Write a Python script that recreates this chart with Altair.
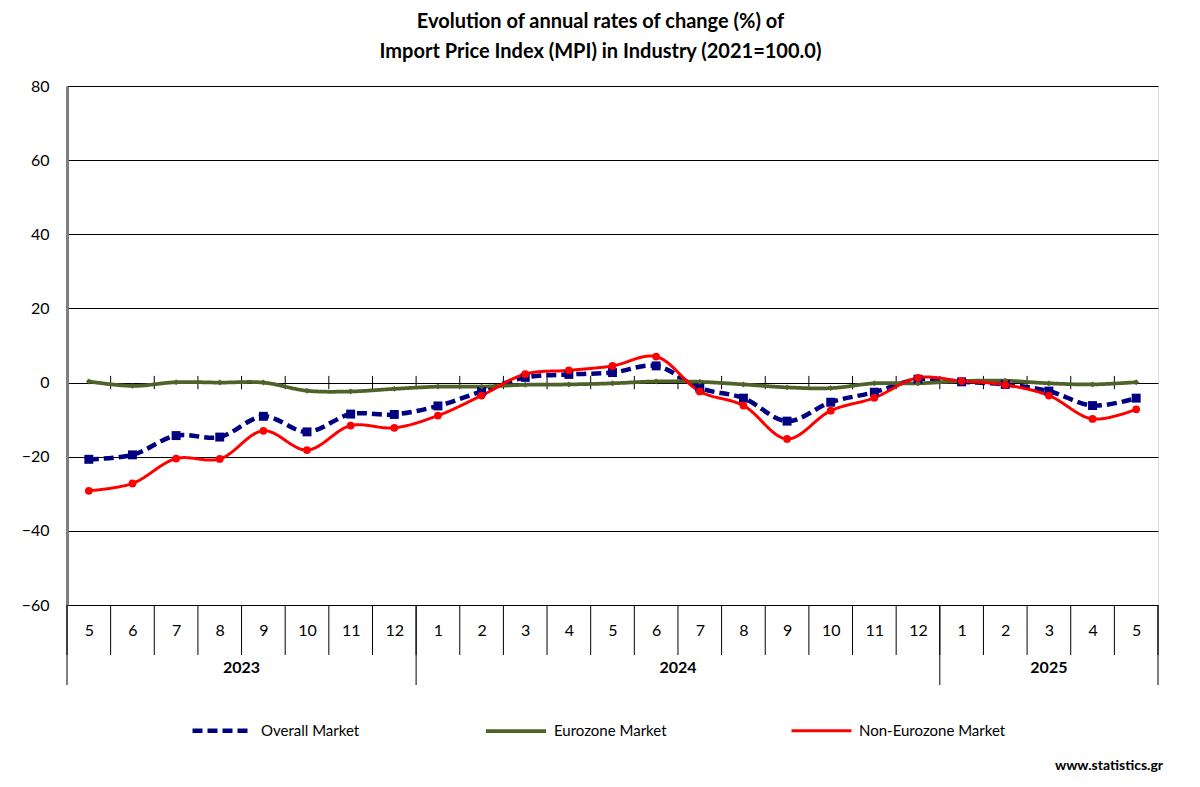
import altair as alt
import pandas as pd

# ---- data ----
months = [5, 6, 7, 8, 9, 10, 11, 12, 1, 2, 3, 4, 5, 6, 7, 8, 9, 10, 11, 12, 1, 2, 3, 4, 5]
year_labels = ["2023", "2024", "2025"]
year_counts = [8, 12, 5]

series_names = ["Overall Market", "Eurozone Market", "Non-Eurozone Market"]
overall = [-20.7, -19.5, -14.3, -14.7, -9.1, -13.3, -8.5, -8.6, -6.3, -2.4, 1.4, 2.2, 2.7, 4.5,
           -1.5, -4.2, -10.4, -5.3, -2.6, 0.9, 0.2, -0.5, -2.3, -6.2, -4.2]
eurozone = [0.3, -0.9, 0.1, 0.0, 0.0, -2.2, -2.4, -1.7, -1.1, -1.1, -0.6, -0.5, -0.2, 0.3,
            0.2, -0.5, -1.3, -1.5, -0.2, -0.2, 0.4, 0.5, -0.2, -0.5, 0.1]
non_eurozone = [-29.2, -27.2, -20.5, -20.6, -13.0, -18.2, -11.6, -12.2, -8.9, -3.5, 2.3, 3.3, 4.5, 7.0,
                -2.4, -6.2, -15.2, -7.6, -4.1, 1.3, 0.4, -0.6, -3.5, -9.8, -7.2]

colors = ["#000080", "#4F6228", "#FF0000"]

# ---- tables ----
n = len(months)
rows = []
for name, vals in zip(series_names, [overall, eurozone, non_eurozone]):
    for i, v in enumerate(vals):
        rows.append({"idx": i, "month": months[i], "series": name, "value": v})
df = pd.DataFrame(rows)

month_bounds = pd.DataFrame({"b": [i - 0.5 for i in range(n + 1)]})
inner_bounds = pd.DataFrame({"b": [i + 0.5 for i in range(n - 1)]})

starts = [0]
for c in year_counts[:-1]:
    starts.append(starts[-1] + c)
year_df = pd.DataFrame({
    "year": year_labels,
    "center": [s + (c - 1) / 2 for s, c in zip(starts, year_counts)],
})
year_bounds = pd.DataFrame({"b": [s - 0.5 for s in starts] + [n - 0.5]})

W, H = 1091, 519
FONT = "Lato"

xscale = alt.Scale(domain=[-0.5, n - 0.5], nice=False, zero=False)
yscale = alt.Scale(domain=[-60, 80], nice=False, zero=False)

label_expr = "[" + ",".join("'%d'" % m for m in months) + "][datum.value]"

x_axis = alt.Axis(values=list(range(n)), labelExpr=label_expr, ticks=False, domain=False,
                  grid=False, title=None, labelFontSize=16, labelPadding=17, labelFont=FONT,
                  labelColor="#000", labelFlush=False, labelOverlap=False)
y_axis = alt.Axis(values=list(range(-60, 81, 20)), title=None, ticks=False, grid=True,
                  gridColor="#000", gridWidth=1, gridOpacity=1, domain=True, domainColor="#7f7f7f",
                  domainWidth=3, labelFontSize=16, labelPadding=18, labelFont=FONT, labelColor="#000")

base = alt.Chart(df)

lines = base.mark_line(interpolate="catmull-rom").encode(
    x=alt.X("idx:Q", scale=xscale, axis=x_axis),
    y=alt.Y("value:Q", scale=yscale, axis=y_axis),
    color=alt.Color("series:N", scale=alt.Scale(domain=series_names, range=colors),
                    legend=alt.Legend(title=None, orient="none", legendX=123, legendY=612,
                                      direction="horizontal", symbolType="stroke", symbolSize=3600,
                                      symbolStrokeWidth=4, labelFontSize=15, labelFont=FONT,
                                      labelColor="#000", columnPadding=118, labelOffset=6)),
    strokeDash=alt.StrokeDash("series:N", scale=alt.Scale(domain=series_names,
                                                          range=[[10, 5], [1, 0], [1, 0]])),
    strokeWidth=alt.StrokeWidth("series:N", scale=alt.Scale(domain=series_names, range=[4.5, 3, 2]),
                                legend=None),
    order=alt.Order("idx:Q"),
)

pt_overall = base.transform_filter(alt.datum.series == series_names[0]).mark_point(
    shape="square", filled=True, size=80, opacity=1).encode(
    x=alt.X("idx:Q", scale=xscale), y=alt.Y("value:Q", scale=yscale), color=alt.value(colors[0]))
pt_euro = base.transform_filter(alt.datum.series == series_names[1]).mark_point(
    shape="diamond", filled=True, size=35, opacity=1).encode(
    x=alt.X("idx:Q", scale=xscale), y=alt.Y("value:Q", scale=yscale), color=alt.value(colors[1]))
pt_non = base.transform_filter(alt.datum.series == series_names[2]).mark_point(
    shape="circle", filled=True, size=60, opacity=1).encode(
    x=alt.X("idx:Q", scale=xscale), y=alt.Y("value:Q", scale=yscale), color=alt.value(colors[2]))

zero_ticks = alt.Chart(inner_bounds).mark_rule(color="#000", strokeWidth=1).encode(
    x=alt.X("b:Q", scale=xscale), y=alt.datum(-1.8), y2=alt.datum(1.8))

month_seps = alt.Chart(month_bounds).mark_rule(color="#000", strokeWidth=1).encode(
    x=alt.X("b:Q", scale=xscale), y=alt.value(H), y2=alt.value(H + 50))
year_seps = alt.Chart(year_bounds).mark_rule(color="#000", strokeWidth=1).encode(
    x=alt.X("b:Q", scale=xscale), y=alt.value(H), y2=alt.value(H + 80))
year_text = alt.Chart(year_df).mark_text(fontSize=16, fontWeight="bold", font=FONT,
                                         color="#000", baseline="middle").encode(
    x=alt.X("center:Q", scale=xscale), y=alt.value(H + 63), text="year:N")

source = alt.Chart(pd.DataFrame({"t": ["www.statistics.gr"]})).mark_text(
    fontSize=14, fontWeight="bold", font=FONT, color="#000", align="right", baseline="middle").encode(
    x=alt.value(W + 5), y=alt.value(H + 161), text="t:N")

chart = alt.layer(
    zero_ticks, month_seps, year_seps, year_text, lines, pt_overall, pt_euro, pt_non, source
).properties(
    width=W, height=H,
    title=alt.TitleParams(
        text=["Evolution of annual rates of change (%) of",
              "Import Price Index (MPI) in Industry (2021=100.0)"],
        fontSize=20, font=FONT, fontWeight="bold", color="#000", anchor="middle",
        lineHeight=30, offset=16, dx=-12),
    autosize=alt.AutoSizeParams(type="none"),
    padding={"left": 59, "top": 78, "right": 34, "bottom": 174},
).configure_view(stroke="#7f7f7f", strokeWidth=2).configure(background="white")

chart.save("out.html", embed_options={"renderer": "svg", "actions": False})
